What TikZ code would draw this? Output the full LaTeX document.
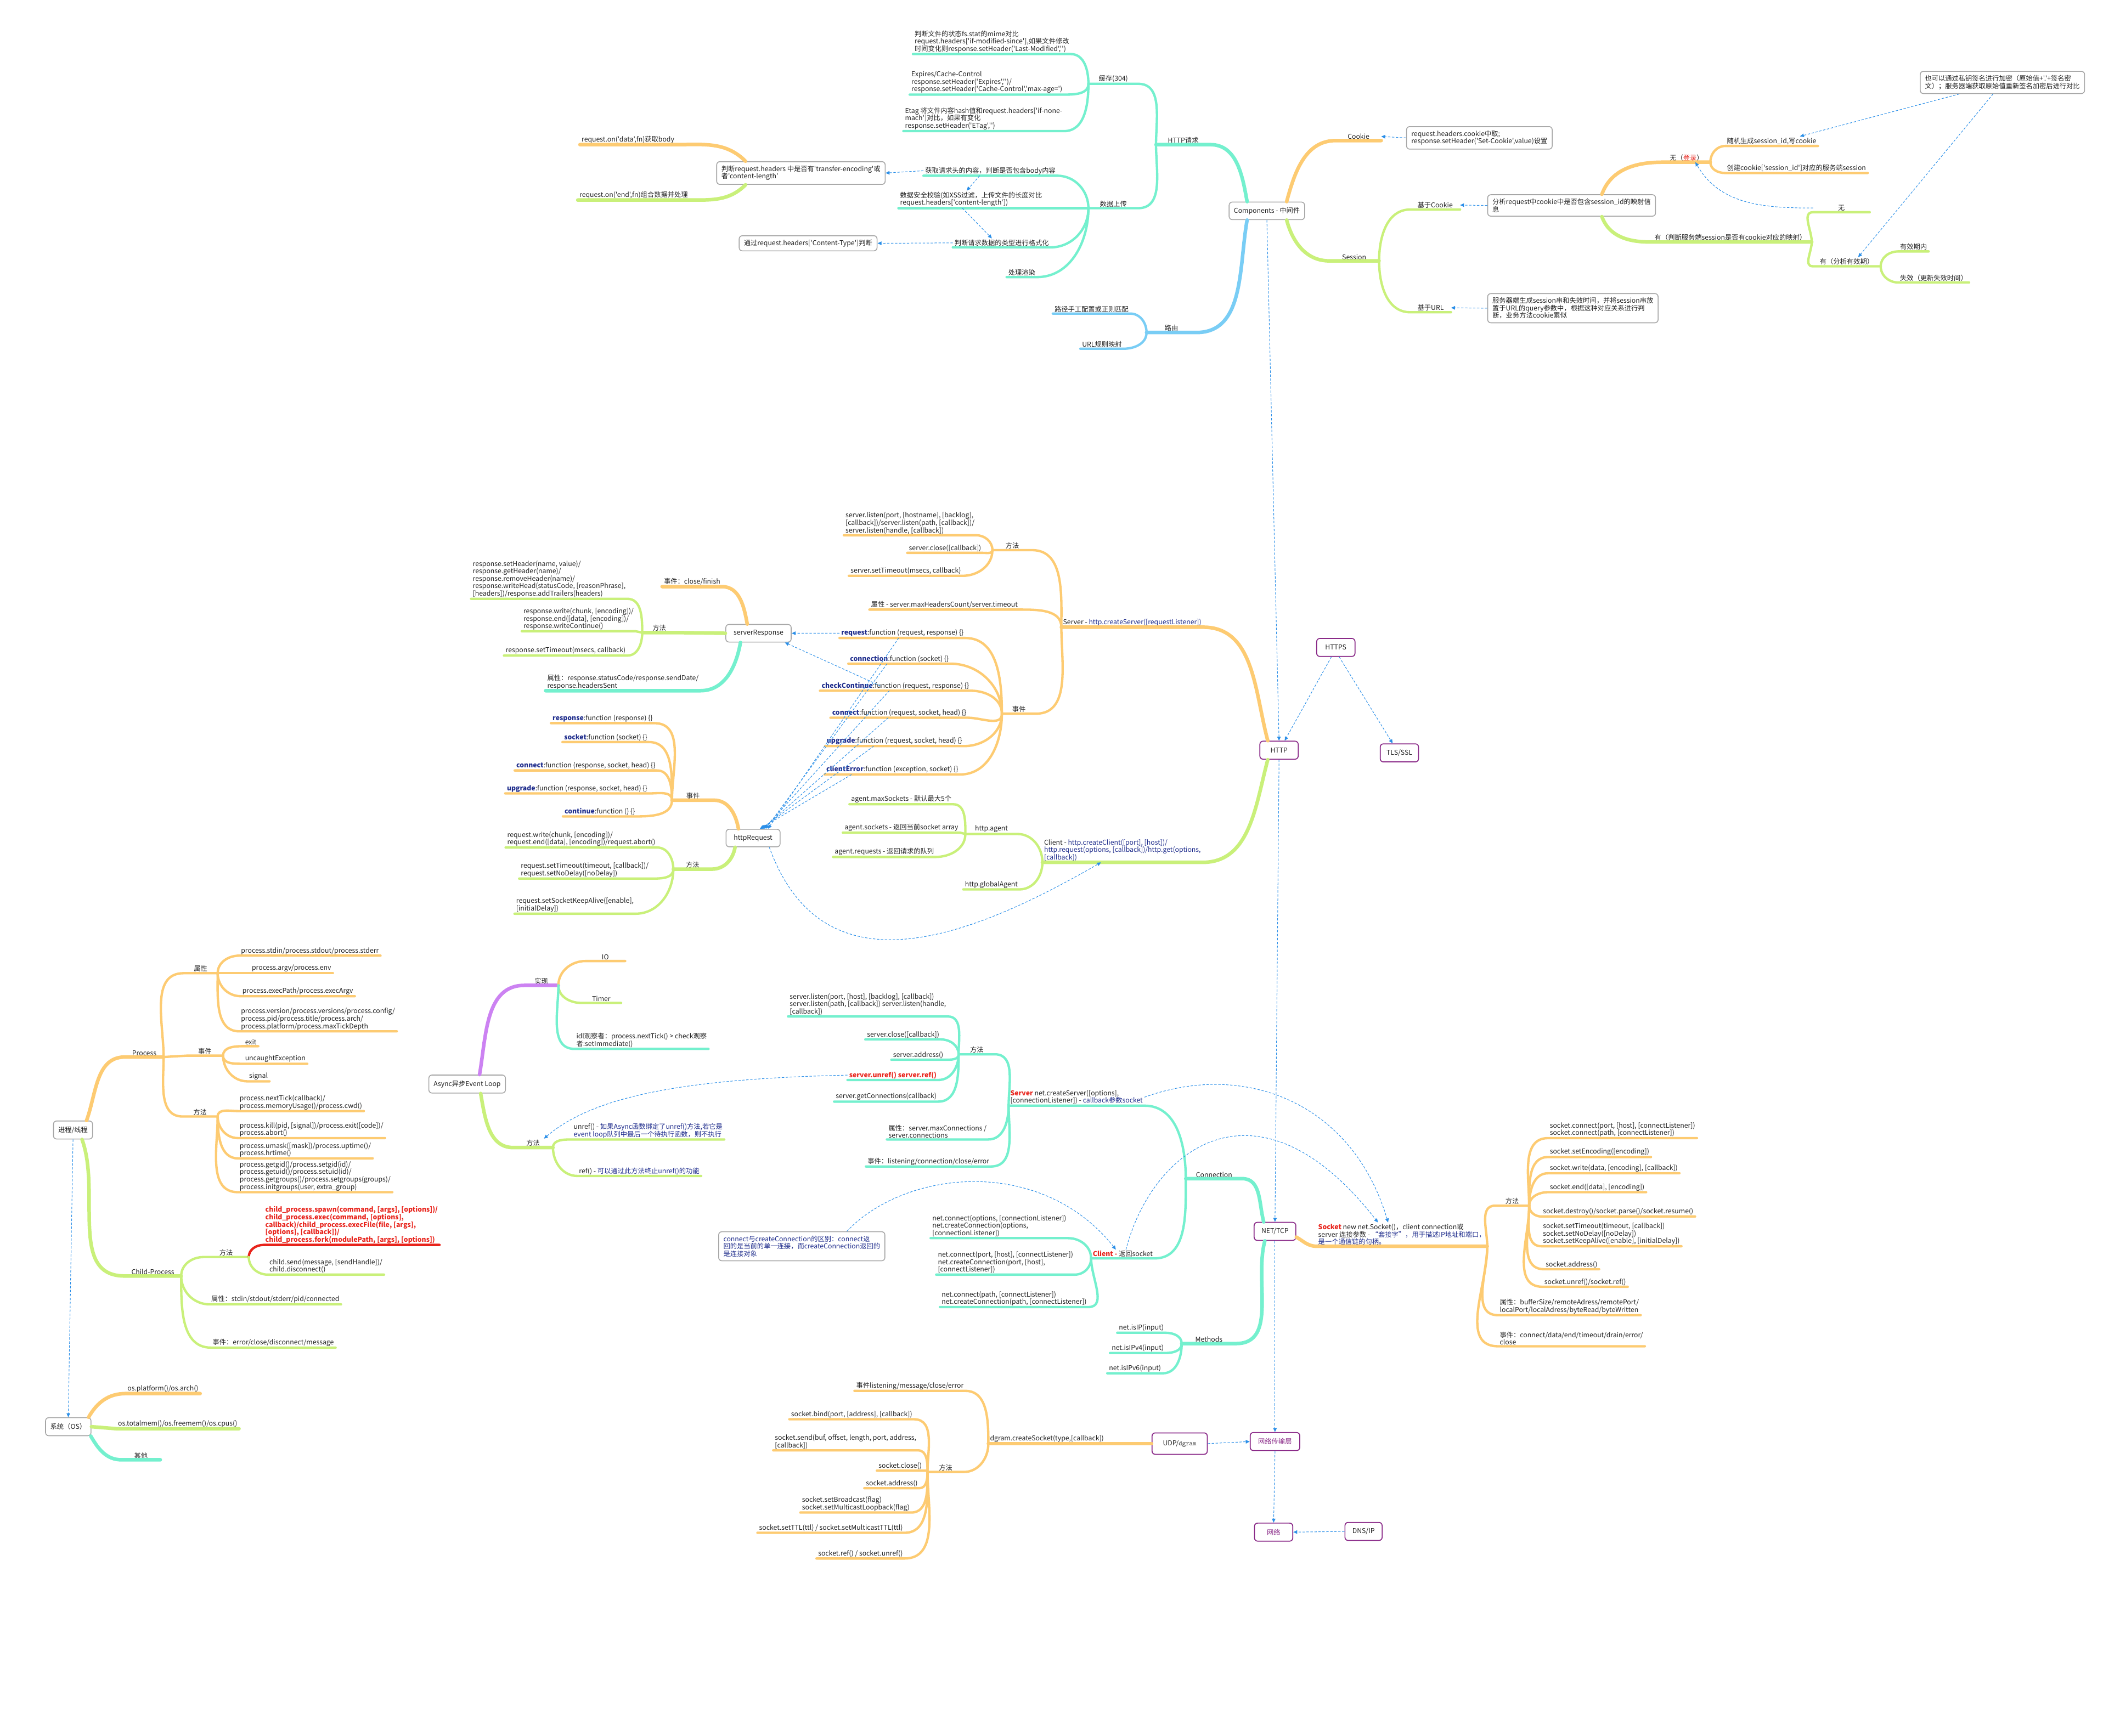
\documentclass[tikz,border=0pt]{standalone}
\usepackage{fontspec}
\setmainfont{Noto Sans CJK SC}[Ligatures=TeXOff]
\usetikzlibrary{arrows.meta,calc}

\definecolor{cOrange}{HTML}{FDCB72}
\definecolor{cGreen}{HTML}{C9F07A}
\definecolor{cTeal}{HTML}{74F0CE}
\definecolor{cSky}{HTML}{79CDF5}
\definecolor{cViolet}{HTML}{CC82F2}
\definecolor{cRed}{HTML}{E8231B}
\definecolor{cNavy}{HTML}{1E2C8C}
\definecolor{cArrow}{HTML}{2B8FE8}
\definecolor{cPlum}{HTML}{8A2A88}
\definecolor{cInk}{HTML}{222222}

\newcommand\mapfont{\fontsize{8.5}{9.4}\selectfont}
\newcommand\evname[1]{\textbf{\textcolor{cNavy}{#1}}}
\newcommand\hot[1]{\textbf{\textcolor{cRed}{#1}}}
\newcommand\navy[1]{\textcolor{cNavy}{#1}}

\tikzset{
  leaf/.style={inner xsep=2pt, inner ysep=1.5pt, align=left, font=\mapfont, text=cInk},
  box/.style={draw=gray!70, line width=1.1pt, rounded corners=4pt, fill=white, align=left,
    inner xsep=6pt, inner ysep=5pt, font=\mapfont, text=cInk},
  hub/.style={draw=cPlum, line width=1.2pt, rounded corners=4pt, fill=white, font=\mapfont,
    minimum width=1.7cm, minimum height=0.8cm, text=cInk},
  twig/.style={line width=3pt, line cap=round, line join=round},
  limb/.style={line width=4.5pt, line cap=round, line join=round},
  otw/.style={twig, draw=cOrange}, gtw/.style={twig, draw=cGreen},
  ttw/.style={twig, draw=cTeal}, btw/.style={twig, draw=cSky},
  rtw/.style={twig, draw=cRed},
  obr/.style={limb, draw=cOrange}, gbr/.style={limb, draw=cGreen},
  tbr/.style={limb, draw=cTeal}, bbr/.style={limb, draw=cSky},
  vbr/.style={limb, draw=cViolet},
  darr/.style={-{Triangle[length=5pt,width=4.5pt]}, draw=cArrow, line width=0.7pt,
    dash pattern=on 3pt off 2pt},
  uL/.style={out=90,in=0}, dL/.style={out=270,in=0},
  uR/.style={out=90,in=180}, dR/.style={out=270,in=180}
}

\begin{document}
\begin{tikzpicture}[x=0.06cm, y=-0.06cm]

\fill[white] (0,0) rectangle (1568,1284);
\useasboundingbox (0,0) rectangle (1568,1284);

% Components
\node[box, minimum height=0.78cm] (comp) at (937,156) {Components - 中间件};
\node[leaf, anchor=south west, minimum width=2.4cm] (httpreq) at (855,107) {HTTP请求};
\node[leaf, anchor=south west, minimum width=2.2cm] (cache) at (805,62) {缓存(304)};
\node[leaf, anchor=south west, minimum width=2.2cm] (upload) at (805,154) {数据上传};
\node[leaf, anchor=south east] (c1) at (792,40) {判断文件的状态fs.stat的mime对比\\request.headers['if-modified-since'],如果文件修改\\时间变化则response.setHeader('Last-Modified','')};
\node[leaf, anchor=south east] (c2) at (787,70) {Expires/Cache-Control\\response.setHeader('Expires','')/\\response.setHeader('Cache-Control','max-age=')};
\node[leaf, anchor=south east] (c3) at (787,97) {Etag 将文件内容hash值和request.headers['if-none-\\mach']对比，如果有变化\\response.setHeader('ETag','')};
\node[leaf, anchor=south east] (u1) at (782,130) {获取请求头的内容，判断是否包含body内容};
\node[leaf, anchor=south east] (u2) at (772,154) {数据安全校验(如XSS过滤，上传文件的长度对比\\request.headers['content-length'])};
\node[leaf, anchor=south east] (u3) at (777,183) {判断请求数据的类型进行格式化};
\node[leaf, anchor=south east] (u4) at (767,205) {处理渲染};
\draw[tbr] (comp.155) to[out=100,in=0] (httpreq.south east) -- (httpreq.south west);
\draw[ttw] (httpreq.south west) to[uL] (cache.south east) -- (cache.south west);
\draw[ttw] (httpreq.south west) to[dL] (upload.south east) -- (upload.south west);
\draw[ttw] (cache.south west) to[uL] (c1.south east) -- (c1.south west);
\draw[ttw] (cache.south west) to[dL] (c2.south east) -- (c2.south west);
\draw[ttw] (cache.south west) to[dL] (c3.south east) -- (c3.south west);
\draw[ttw] (upload.south west) to[uL] (u1.south east) -- (u1.south west);
\draw[ttw] (upload.south west) -- (u2.south east) -- (u2.south west);
\draw[ttw] (upload.south west) to[dL] (u3.south east) -- (u3.south west);
\draw[ttw] (upload.south west) to[dL] (u4.south east) -- (u4.south west);

\node[box, anchor=east] (tebox) at (655,128) {判断request.headers 中是否有'transfer-encoding'或\\者'content-length'};
\node[box, anchor=east] (ctbox) at (649,180) {通过request.headers['Content-Type']判断};
\node[leaf, anchor=south east] (on1) at (500,107) {request.on('data',fn)获取body};
\node[leaf, anchor=south east] (on2) at (510,148) {request.on('end',fn)组合数据并处理};
\draw[obr] ([xshift=1.3cm]tebox.north west) to[out=135,in=0] (on1.south east) -- (on1.south west);
\draw[gbr] ([xshift=1.3cm]tebox.south west) to[out=225,in=0] (on2.south east) -- (on2.south west);
\draw[darr] (u1.west) -- (tebox.east);
\draw[darr] ($(u1.south west)!0.42!(u1.south east)$) -- ($(u2.north west)!0.47!(u2.north east)$);
\draw[darr] ($(u2.south west)!0.44!(u2.south east)$) -- ($(u3.north west)!0.4!(u3.north east)$);
\draw[darr] (u3.west) -- (ctbox.east);

\node[leaf, anchor=south west, minimum width=2.2cm] (route) at (848,246) {路由};
\node[leaf, anchor=south east] (r1) at (836,232) {路径手工配置或正则匹配};
\node[leaf, anchor=south east] (r2) at (831,258) {URL规则映射};
\draw[bbr] (comp.205) to[out=260,in=0] (route.south east) -- (route.south west);
\draw[btw] (route.south west) to[uL] (r1.south east) -- (r1.south west);
\draw[btw] (route.south west) to[dL] (r2.south east) -- (r2.south west);

% Cookie and Session
\node[leaf, anchor=south west, minimum width=2cm] (cookie) at (988,104) {Cookie};
\node[box, anchor=west] (ckbox) at (1040,102) {request.headers.cookie中取;\\response.setHeader('Set-Cookie',value)设置};
\draw[obr] (comp.25) to[out=75,in=180] (cookie.south west) -- (cookie.south east);
\draw[darr] (ckbox.west) -- (cookie.east);

\node[leaf, anchor=south east, minimum width=2.2cm] (session) at (1020,193) {Session};
\node[leaf, anchor=south west, minimum width=2.2cm] (sck) at (1043,155) {基于Cookie};
\node[leaf, anchor=south west, minimum width=1.8cm] (surl) at (1043,231) {基于URL};
\draw[gbr] (comp.335) to[out=285,in=180] (session.south west) -- (session.south east);
\draw[gtw] (session.south east) to[uR] (sck.south west) -- (sck.south east);
\draw[gtw] (session.south east) to[dR] (surl.south west) -- (surl.south east);
\node[box, anchor=west] (anbox) at (1100,152) {分析request中cookie中是否包含session\_id的映射信\\息};
\node[box, anchor=west] (urlbox) at (1100,228) {服务器端生成session串和失效时间，并将session串放\\置于URL的query参数中，根据这种对应关系进行判\\断，业务方法cookie累似};
\draw[darr] (anbox.west) -- (sck.east);
\draw[darr] (urlbox.west) -- (surl.east);

\node[leaf, anchor=south east, minimum width=2.1cm] (nologin) at (1265,120) {无（\textcolor{cRed}{登录}）};
\node[leaf, anchor=south west] (s1) at (1276,108) {随机生成session\_id,写cookie};
\node[leaf, anchor=south west] (s2) at (1276,128) {创建cookie['session\_id']对应的服务端session};
\draw[obr] ([xshift=-2.4cm]anbox.north east) to[out=70,in=180] (nologin.south west) -- (nologin.south east);
\draw[otw] (nologin.south east) to[uR] (s1.south west) -- (s1.south east);
\draw[otw] (nologin.south east) to[dR] (s2.south west) -- (s2.south east);
\node[leaf, anchor=south east, minimum width=7.2cm] (have) at (1340,179) {有（判断服务端session是否有cookie对应的映射）};
\node[leaf, anchor=south west, minimum width=2.5cm] (hno) at (1341,157) {无};
\node[leaf, anchor=south east, minimum width=3cm] (hyes) at (1391,197) {有（分析有效期）};
\node[leaf, anchor=south west] (v1) at (1404,186) {有效期内};
\node[leaf, anchor=south west] (v2) at (1404,209) {失效（更新失效时间）};
\draw[gbr] ([xshift=-2.4cm]anbox.south east) to[out=290,in=180] (have.south west) -- (have.south east);
\draw[gtw] (have.south east) to[uR] (hno.south west) -- (hno.south east);
\draw[gtw] (have.south east) to[dR] (hyes.south west) -- (hyes.south east);
\draw[gtw] (hyes.south east) to[uR] (v1.south west) -- (v1.south east);
\draw[gtw] (hyes.south east) to[dR] (v2.south west) -- (v2.south east);
\node[box] (sigbox) at (1481,61) {也可以通过私钥签名进行加密（原始值+'.'+签名密\\文）；服务器端获取原始值重新签名加密后进行对比};
\draw[darr] (hno.west) to[out=180,in=-60] ([xshift=1.45cm]nologin.south west);
\draw[darr] (sigbox.195) -- ([xshift=-0.8cm]s1.north east);
\draw[darr] (sigbox.231) -- ([xshift=-1cm]hyes.north east);

% HTTP
\node[hub] (http) at (946,555) {HTTP};
\node[hub] (https) at (988,479) {HTTPS};
\node[hub] (tls) at (1035,557) {TLS/SSL};
\draw[darr] (comp.south) -- (http.north);
\draw[darr] ([xshift=-0.2cm]https.south) -- ([xshift=0.25cm]http.north);
\draw[darr] ([xshift=0.15cm]https.south) -- ([xshift=-0.3cm]tls.north);

\node[leaf, anchor=south west] (srv) at (785,464) {Server - \navy{http.createServer([requestListener])}};
\node[leaf, anchor=south west, minimum width=1.75cm] (smeth) at (734,407) {方法};
\node[leaf, anchor=south east] (sm1) at (722,396) {server.listen(port, [hostname], [backlog],\\{}[callback])/server.listen(path, [callback])/\\server.listen(handle, [callback])};
\node[leaf, anchor=south east] (sm2) at (727,409) {server.close([callback])};
\node[leaf, anchor=south east] (sm3) at (712,426) {server.setTimeout(msecs, callback)};
\node[leaf, anchor=south east] (sattr) at (754,451) {属性 - server.maxHeadersCount/server.timeout};
\node[leaf, anchor=south west, minimum width=1.5cm] (sevt) at (741,528) {事件};
\node[leaf, anchor=south east] (e1) at (714,472) {\evname{request}:function (request, response) \{\}};
\node[leaf, anchor=south east] (e2) at (703,491) {\evname{connection}:function (socket) \{\}};
\node[leaf, anchor=south east] (e3) at (718,511) {\evname{checkContinue}:function (request, response) \{\}};
\node[leaf, anchor=south east] (e4) at (716,531) {\evname{connect}:function (request, socket, head) \{\}};
\node[leaf, anchor=south east] (e5) at (713,552) {\evname{upgrade}:function (request, socket, head) \{\}};
\node[leaf, anchor=south east] (e6) at (710,573) {\evname{clientError}:function (exception, socket) \{\}};
\draw[obr] ([xshift=-0.5cm]http.north) to[out=105,in=0] (srv.south east) -- (srv.south west);
\draw[otw] (srv.south west) to[uL] (smeth.south east) -- (smeth.south west);
\draw[otw] (smeth.south west) to[uL] (sm1.south east) -- (sm1.south west);
\draw[otw] (smeth.south west) to[dL] (sm2.south east) -- (sm2.south west);
\draw[otw] (smeth.south west) to[dL] (sm3.south east) -- (sm3.south west);
\draw[otw] (srv.south west) to[uL] (sattr.south east) -- (sattr.south west);
\draw[otw] (srv.south west) to[dL] (sevt.south east) -- (sevt.south west);
\draw[otw] (sevt.south west) to[uL] (e1.south east) -- (e1.south west);
\draw[otw] (sevt.south west) to[uL] (e2.south east) -- (e2.south west);
\draw[otw] (sevt.south west) to[uL] (e3.south east) -- (e3.south west);
\draw[otw] (sevt.south west) to[dL] (e4.south east) -- (e4.south west);
\draw[otw] (sevt.south west) to[dL] (e5.south east) -- (e5.south west);
\draw[otw] (sevt.south west) to[dL] (e6.south east) -- (e6.south west);

\node[leaf, anchor=south west] (cli) at (771,638) {Client - \navy{http.createClient([port], [host])/}\\\navy{http.request(options, [callback])/http.get(options,}\\\navy{[callback])}};
\node[leaf, anchor=south west, minimum width=2.3cm] (agent) at (714,617) {http.agent};
\node[leaf, anchor=south east] (gagent) at (754,658) {http.globalAgent};
\node[leaf, anchor=south east] (a1) at (705,595) {agent.maxSockets - 默认最大5个};
\node[leaf, anchor=south east] (a2) at (710,616) {agent.sockets - 返回当前socket array};
\node[leaf, anchor=south east] (a3) at (692,634) {agent.requests - 返回请求的队列};
\draw[gbr] ([xshift=-0.5cm]http.south) to[out=255,in=0] (cli.south east) -- (cli.south west);
\draw[gtw] (cli.south west) to[uL] (agent.south east) -- (agent.south west);
\draw[gtw] (cli.south west) to[dL] (gagent.south east) -- (gagent.south west);
\draw[gtw] (agent.south west) to[uL] (a1.south east) -- (a1.south west);
\draw[gtw] (agent.south west) -- (a2.south east) -- (a2.south west);
\draw[gtw] (agent.south west) to[dL] (a3.south east) -- (a3.south west);

% serverResponse
\node[box, minimum width=2.9cm, minimum height=0.78cm] (sresp) at (561,468.5) {serverResponse};
\node[leaf, anchor=south east] (sclose) at (534,434) {事件：close/finish};
\node[leaf, anchor=south west, minimum width=1.5cm] (smeth2) at (475,468) {方法};
\node[leaf, anchor=south east] (rm1) at (464,443) {response.setHeader(name, value)/\\response.getHeader(name)/\\response.removeHeader(name)/\\response.writeHead(statusCode, [reasonPhrase],\\{}[headers])/response.addTrailers(headers)};
\node[leaf, anchor=south east] (rm2) at (470,467) {response.write(chunk, [encoding])/\\response.end([data], [encoding])/\\response.writeContinue()};
\node[leaf, anchor=south east] (rm3) at (464,485) {response.setTimeout(msecs, callback)};
\node[leaf, anchor=south east] (sattr2) at (518,511) {属性：response.statusCode/response.sendDate/\\response.headersSent};
\draw[obr] ([xshift=-0.5cm]sresp.north) to[out=100,in=0] (sclose.south east) -- (sclose.south west);
\draw[gbr] (sresp.west) -- (smeth2.south east) -- (smeth2.south west);
\draw[gtw] (smeth2.south west) to[uL] (rm1.south east) -- (rm1.south west);
\draw[gtw] (smeth2.south west) -- (rm2.south east) -- (rm2.south west);
\draw[gtw] (smeth2.south west) to[dL] (rm3.south east) -- (rm3.south west);
\draw[tbr] ([xshift=-0.8cm]sresp.south) to[out=260,in=0] (sattr2.south east) -- (sattr2.south west);

% httpRequest
\node[box, minimum width=2.4cm, minimum height=0.78cm] (hreq) at (557,620) {httpRequest};
\node[leaf, anchor=south west, minimum width=1.85cm] (hevt) at (497,592) {事件};
\node[leaf, anchor=south east] (q1) at (484,535) {\evname{response}:function (response) \{\}};
\node[leaf, anchor=south east] (q2) at (480,549) {\evname{socket}:function (socket) \{\}};
\node[leaf, anchor=south east] (q3) at (486,570) {\evname{connect}:function (response, socket, head) \{\}};
\node[leaf, anchor=south east] (q4) at (480,587) {\evname{upgrade}:function (response, socket, head) \{\}};
\node[leaf, anchor=south east] (q5) at (471,604) {\evname{continue}:function () \{\}};
\node[leaf, anchor=south west, minimum width=1.7cm] (hmeth) at (498,643) {方法};
\node[leaf, anchor=south east] (w1) at (486,627) {request.write(chunk, [encoding])/\\request.end([data], [encoding])/request.abort()};
\node[leaf, anchor=south east] (w2) at (481,650) {request.setTimeout(timeout, [callback])/\\request.setNoDelay([noDelay])};
\node[leaf, anchor=south east] (w3) at (470,676) {request.setSocketKeepAlive([enable],\\{}[initialDelay])};
\draw[obr] ([xshift=-0.65cm]hreq.north) to[out=100,in=0] (hevt.south east) -- (hevt.south west);
\draw[otw] (hevt.south west) to[uL] (q1.south east) -- (q1.south west);
\draw[otw] (hevt.south west) to[uL] (q2.south east) -- (q2.south west);
\draw[otw] (hevt.south west) to[uL] (q3.south east) -- (q3.south west);
\draw[otw] (hevt.south west) to[uL] (q4.south east) -- (q4.south west);
\draw[otw] (hevt.south west) to[dL] (q5.south east) -- (q5.south west);
\draw[gbr] ([xshift=-0.8cm]hreq.south) to[out=260,in=0] (hmeth.south east) -- (hmeth.south west);
\draw[gtw] (hmeth.south west) to[uL] (w1.south east) -- (w1.south west);
\draw[gtw] (hmeth.south west) to[dL] (w2.south east) -- (w2.south west);
\draw[gtw] (hmeth.south west) to[dL] (w3.south east) -- (w3.south west);

\draw[darr] (e1.west) -- (sresp.east);
\draw[darr] ($(e3.west)!0.4!(e3.east)$) -- ([xshift=-0.3cm]sresp.south east);
\draw[darr] ($(e1.south west)!0.47!(e1.south east)$) -- ([xshift=0.66cm]hreq.north);
\draw[darr] ($(e2.south west)!0.38!(e2.south east)$) -- ([xshift=0.56cm]hreq.north);
\draw[darr] ($(e3.south west)!0.46!(e3.south east)$) -- ([xshift=0.48cm]hreq.north);
\draw[darr] ($(e4.south west)!0.42!(e4.south east)$) -- ([xshift=0.42cm]hreq.north);
\draw[darr] ($(e5.south west)!0.35!(e5.south east)$) -- ([xshift=0.36cm]hreq.north);
\draw[darr] ($(e6.south west)!0.2!(e6.south east)$) -- ([xshift=0.3cm]hreq.north);
\draw[darr] ([xshift=-0.5cm]hreq.south east) to[out=-70,in=-150,looseness=1.2] ([xshift=2.6cm]cli.south west);

% NET/TCP
\node[hub, minimum width=1.85cm] (net) at (943,911) {NET/TCP};
\draw[darr] (http.south) -- (net.north);
\node[leaf, anchor=south west, minimum width=2.5cm] (conn) at (877,872) {Connection};
\node[leaf, anchor=south west] (nsrv) at (746,818) {\hot{Server} net.createServer([options],\\{}[connectionListener]) - \navy{callback参数socket}};
\node[leaf, anchor=south west, minimum width=1.6cm] (nmeth) at (709,780) {方法};
\node[leaf, anchor=south east] (nm1) at (701,752) {server.listen(port, [host], [backlog], [callback])\\server.listen(path, [callback]) server.listen(handle,\\{}[callback])};
\node[leaf, anchor=south east] (nm2) at (696,769) {server.close([callback])};
\node[leaf, anchor=south east] (nm3) at (699,784) {server.address()};
\node[leaf, anchor=south east] (nm4) at (694,799) {\hot{server.unref() server.ref()}};
\node[leaf, anchor=south east] (nm5) at (694,815) {server.getConnections(callback)};
\node[leaf, anchor=south east] (nattr) at (731,843) {属性：server.maxConnections /\\server.connections};
\node[leaf, anchor=south east] (nevt) at (733,863) {事件：listening/connection/close/error};
\draw[tbr] ([xshift=-0.5cm]net.north) to[out=105,in=0] (conn.south east) -- (conn.south west);
\draw[ttw] (conn.south west) to[uL] (nsrv.south east) -- (nsrv.south west);
\draw[ttw] (nsrv.south west) to[uL] (nmeth.south east) -- (nmeth.south west);
\draw[ttw] (nmeth.south west) to[uL] (nm1.south east) -- (nm1.south west);
\draw[ttw] (nmeth.south west) to[uL] (nm2.south east) -- (nm2.south west);
\draw[ttw] (nmeth.south west) to[dL] (nm3.south east) -- (nm3.south west);
\draw[ttw] (nmeth.south west) to[dL] (nm4.south east) -- (nm4.south west);
\draw[ttw] (nmeth.south west) to[dL] (nm5.south east) -- (nm5.south west);
\draw[ttw] (nsrv.south west) to[dL] (nattr.south east) -- (nattr.south west);
\draw[ttw] (nsrv.south west) to[dL] (nevt.south east) -- (nevt.south west);

\node[leaf, anchor=south west] (ncli) at (807,931) {\hot{Client -} 返回socket};
\node[leaf, anchor=south east] (nc1) at (790,916) {net.connect(options, [connectionListener])\\net.createConnection(options,\\{}[connectionListener])};
\node[leaf, anchor=south east] (nc2) at (795,943) {net.connect(port, [host], [connectListener])\\net.createConnection(port, [host],\\{}[connectListener])};
\node[leaf, anchor=south east] (nc3) at (805,967) {net.connect(path, [connectListener])\\net.createConnection(path, [connectListener])};
\draw[ttw] (conn.south west) to[dL] (ncli.south east) -- (ncli.south west);
\draw[ttw] (ncli.south west) to[uL] (nc1.south east) -- (nc1.south west);
\draw[ttw] (ncli.south west) to[dL] (nc2.south east) -- (nc2.south west);
\draw[ttw] (ncli.south west) to[dL] (nc3.south east) -- (nc3.south west);
\node[box, text=cNavy] (ncbox) at (593,922) {connect与createConnection的区别：connect返\\回的是当前的单一连接，而createConnection返回的\\是连接对象};
\draw[darr] ([xshift=2cm]ncbox.north) .. controls (670,865) and (770,855) .. ([xshift=1.1cm]ncli.north west);

\node[leaf, anchor=south west, minimum width=2.4cm] (nmtd) at (874,994) {Methods};
\node[leaf, anchor=south east] (mi1) at (862,986) {net.isIP(input)};
\node[leaf, anchor=south east] (mi2) at (862,1001) {net.isIPv4(input)};
\node[leaf, anchor=south east] (mi3) at (860,1016) {net.isIPv6(input)};
\draw[tbr] ([xshift=-0.45cm]net.south) to[out=255,in=0] (nmtd.south east) -- (nmtd.south west);
\draw[ttw] (nmtd.south west) to[uL] (mi1.south east) -- (mi1.south west);
\draw[ttw] (nmtd.south west) to[dL] (mi2.south east) -- (mi2.south west);
\draw[ttw] (nmtd.south west) to[dL] (mi3.south east) -- (mi3.south west);

\node[leaf, anchor=south east] (socket) at (1100,922) {\hot{Socket} new net.Socket()，client connection或\\server 连接参数 - \navy{“套接字”，用于描述IP地址和端口，}\\\navy{是一个通信链的句柄。}};
\node[leaf, anchor=south east, minimum width=1.5cm] (smeth3) at (1131,892) {方法};
\node[leaf, anchor=south west] (k1) at (1145,842) {socket.connect(port, [host], [connectListener])\\socket.connect(path, [connectListener])};
\node[leaf, anchor=south west] (k2) at (1145,856) {socket.setEncoding([encoding])};
\node[leaf, anchor=south west] (k3) at (1145,868) {socket.write(data, [encoding], [callback])};
\node[leaf, anchor=south west] (k4) at (1145,882) {socket.end([data], [encoding])};
\node[leaf, anchor=south west] (k5) at (1140,900) {socket.destroy()/socket.parse()/socket.resume()};
\node[leaf, anchor=south west] (k6) at (1140,922) {socket.setTimeout(timeout, [callback])\\socket.setNoDelay([noDelay])\\socket.setKeepAlive([enable], [initialDelay])};
\node[leaf, anchor=south west] (k7) at (1142,939) {socket.address()};
\node[leaf, anchor=south west] (k8) at (1141,952) {socket.unref()/socket.ref()};
\node[leaf, anchor=south west] (sattr3) at (1108,973) {属性：bufferSize/remoteAdress/remotePort/\\localPort/localAdress/byteRead/byteWritten};
\node[leaf, anchor=south west] (sevt3) at (1108,996) {事件：connect/data/end/timeout/drain/error/\\close};
\draw[obr] (net.-15) to[out=-30,in=180] (socket.south west) -- (socket.south east);
\draw[otw] (socket.south east) to[uR] (smeth3.south west) -- (smeth3.south east);
\draw[otw] (smeth3.south east) to[uR] (k1.south west) -- (k1.south east);
\draw[otw] (smeth3.south east) to[uR] (k2.south west) -- (k2.south east);
\draw[otw] (smeth3.south east) to[uR] (k3.south west) -- (k3.south east);
\draw[otw] (smeth3.south east) to[uR] (k4.south west) -- (k4.south east);
\draw[otw] (smeth3.south east) to[dR] (k5.south west) -- (k5.south east);
\draw[otw] (smeth3.south east) to[dR] (k6.south west) -- (k6.south east);
\draw[otw] (smeth3.south east) to[dR] (k7.south west) -- (k7.south east);
\draw[otw] (smeth3.south east) to[dR] (k8.south west) -- (k8.south east);
\draw[otw] (socket.south east) to[dR] (sattr3.south west) -- (sattr3.south east);
\draw[otw] (socket.south east) to[dR] (sevt3.south west) -- (sevt3.south east);
\draw[darr] (nsrv.east) .. controls (920,785) and (1000,815) .. ([xshift=-4.4cm]socket.north east);
\draw[darr] ($(ncli.north west)!0.55!(ncli.north east)$) .. controls (852,850) and (930,790) .. ([xshift=-4.85cm]socket.north east);

% UDP and lower layers
\node[hub, minimum width=2.45cm, minimum height=0.95cm] (udp) at (872.5,1068) {UDP/{\ttfamily dgram}};
\node[hub, minimum width=2.2cm, text=cPlum] (ntl) at (943,1066.5) {网络传输层};
\node[hub, text=cPlum] (netw) at (942,1133.5) {网络};
\node[hub, minimum width=1.65cm] (dns) at (1008.5,1133) {DNS/IP};
\draw[darr] (net.south) -- (ntl.north);
\draw[darr] (ntl.south) -- (netw.north);
\draw[darr] (udp.east) -- (ntl.west);
\draw[darr] (dns.west) -- (netw.east);

\node[leaf, anchor=south west] (dgram) at (731,1068) {dgram.createSocket(type,[callback])};
\node[leaf, anchor=south east] (dev) at (714,1029) {事件listening/message/close/error};
\node[leaf, anchor=south west, minimum width=1.6cm] (dmeth) at (686,1089) {方法};
\node[leaf, anchor=south east] (d1) at (676,1050) {socket.bind(port, [address], [callback])};
\node[leaf, anchor=south east] (d2) at (679,1073) {socket.send(buf, offset, length, port, address,\\{}[callback])};
\node[leaf, anchor=south east] (d3) at (683,1088) {socket.close()};
\node[leaf, anchor=south east] (d4) at (680,1101) {socket.address()};
\node[leaf, anchor=south east] (d5) at (674,1119) {socket.setBroadcast(flag)\\socket.setMulticastLoopback(flag)};
\node[leaf, anchor=south east] (d6) at (669,1134) {socket.setTTL(ttl) / socket.setMulticastTTL(ttl)};
\node[leaf, anchor=south east] (d7) at (669,1153) {socket.ref() / socket.unref()};
\draw[obr] (udp.west) -- (dgram.south east) -- (dgram.south west);
\draw[otw] (dgram.south west) to[uL] (dev.south east) -- (dev.south west);
\draw[otw] (dgram.south west) to[dL] (dmeth.south east) -- (dmeth.south west);
\draw[otw] (dmeth.south west) to[uL] (d1.south east) -- (d1.south west);
\draw[otw] (dmeth.south west) to[uL] (d2.south east) -- (d2.south west);
\draw[otw] (dmeth.south west) to[uL] (d3.south east) -- (d3.south west);
\draw[otw] (dmeth.south west) to[dL] (d4.south east) -- (d4.south west);
\draw[otw] (dmeth.south west) to[dL] (d5.south east) -- (d5.south west);
\draw[otw] (dmeth.south west) to[dL] (d6.south east) -- (d6.south west);
\draw[otw] (dmeth.south west) to[dL] (d7.south east) -- (d7.south west);

% Async
\node[box, minimum height=0.8cm] (async) at (345.5,802) {Async异步Event Loop};
\node[leaf, anchor=south east, minimum width=1.5cm] (impl) at (413,729) {实现};
\node[leaf, anchor=south west, minimum width=1.75cm] (io) at (433,711) {IO};
\node[leaf, anchor=south west, minimum width=1.75cm] (timer) at (430,742) {Timer};
\node[leaf, anchor=south west] (idl) at (425,776) {idl观察者：process.nextTick() > check观察\\者:setImmediate()};
\node[leaf, anchor=south east, minimum width=1.75cm] (ameth) at (409,849) {方法};
\node[leaf, anchor=south west] (unref) at (423,843) {unref() - \navy{如果Async函数绑定了unref()方法,若它是}\\\navy{event loop队列中最后一个待执行函数，则不执行}};
\node[leaf, anchor=south west] (refn) at (427,870) {ref() - \navy{可以通过此方法终止unref()的功能}};
\draw[vbr] ([xshift=0.55cm]async.north) to[out=80,in=180] (impl.south west) -- (impl.south east);
\draw[otw] (impl.south east) to[uR] (io.south west) -- (io.south east);
\draw[gtw] (impl.south east) to[dR] (timer.south west) -- (timer.south east);
\draw[ttw] (impl.south east) to[dR] (idl.south west) -- (idl.south east);
\draw[gbr] ([xshift=0.6cm]async.south) to[out=280,in=180] (ameth.south west) -- (ameth.south east);
\draw[gtw] (ameth.south east) to[uR] (unref.south west) -- (unref.south east);
\draw[gtw] (ameth.south east) to[dR] (refn.south west) -- (refn.south east);
\draw[darr] (nm4.west) .. controls (510,798) and (440,810) .. ([xshift=-0.4cm]ameth.north east);

% Process
\node[box, minimum height=0.8cm] (proc) at (54,836) {进程/线程};
\node[leaf, anchor=south east, minimum width=1.7cm] (process) at (121,782) {Process};
\node[leaf, anchor=south east, minimum width=1.5cm] (pattr) at (161,720) {属性};
\node[leaf, anchor=south east, minimum width=1.6cm] (pevt) at (165,781) {事件};
\node[leaf, anchor=south east, minimum width=1.55cm] (pmeth) at (161,826) {方法};
\node[leaf, anchor=south west] (pa1) at (177,707) {process.stdin/process.stdout/process.stderr};
\node[leaf, anchor=south west] (pa2) at (185,720) {process.argv/process.env};
\node[leaf, anchor=south west] (pa3) at (178,737) {process.execPath/process.execArgv};
\node[leaf, anchor=south west] (pa4) at (177,763) {process.version/process.versions/process.config/\\process.pid/process.title/process.arch/\\process.platform/process.maxTickDepth};
\node[leaf, anchor=south west] (pe1) at (180,774) {exit};
\node[leaf, anchor=south west] (pe2) at (180,787) {uncaughtException};
\node[leaf, anchor=south west] (pe3) at (183,800) {signal};
\node[leaf, anchor=south west] (pm1) at (176,822) {process.nextTick(callback)/\\process.memoryUsage()/process.cwd()};
\node[leaf, anchor=south west] (pm2) at (176,842) {process.kill(pid, [signal])/process.exit([code])/\\process.abort()};
\node[leaf, anchor=south west] (pm3) at (176,857) {process.umask([mask])/process.uptime()/\\process.hrtime()};
\node[leaf, anchor=south west] (pm4) at (176,882) {process.getgid()/process.setgid(id)/\\process.getuid()/process.setuid(id)/\\process.getgroups()/process.setgroups(groups)/\\process.initgroups(user, extra\_group)};
\draw[obr] ([xshift=0.6cm]proc.north) to[out=70,in=180] (process.south west) -- (process.south east);
\draw[otw] (process.south east) to[uR] (pattr.south west) -- (pattr.south east);
\draw[otw] (process.south east) -- (pevt.south west) -- (pevt.south east);
\draw[otw] (process.south east) to[dR] (pmeth.south west) -- (pmeth.south east);
\draw[otw] (pattr.south east) to[uR] (pa1.south west) -- (pa1.south east);
\draw[otw] (pattr.south east) -- (pa2.south west) -- (pa2.south east);
\draw[otw] (pattr.south east) to[dR] (pa3.south west) -- (pa3.south east);
\draw[otw] (pattr.south east) to[dR] (pa4.south west) -- (pa4.south east);
\draw[otw] (pevt.south east) to[uR] (pe1.south west) -- (pe1.south east);
\draw[otw] (pevt.south east) to[dR] (pe2.south west) -- (pe2.south east);
\draw[otw] (pevt.south east) to[dR] (pe3.south west) -- (pe3.south east);
\draw[otw] (pmeth.south east) to[uR] (pm1.south west) -- (pm1.south east);
\draw[otw] (pmeth.south east) to[dR] (pm2.south west) -- (pm2.south east);
\draw[otw] (pmeth.south east) to[dR] (pm3.south west) -- (pm3.south east);
\draw[otw] (pmeth.south east) to[dR] (pm4.south west) -- (pm4.south east);

\node[leaf, anchor=south east, minimum width=2.5cm] (child) at (134,944) {Child-Process};
\node[leaf, anchor=south east, minimum width=2cm] (cmeth) at (184,930) {方法};
\node[leaf, anchor=south west, text=cRed, font=\mapfont\bfseries] (cm1) at (195,921) {child\_process.spawn(command, [args], [options])/\\child\_process.exec(command, [options],\\callback)/child\_process.execFile(file, [args],\\{}[options], [callback])/\\child\_process.fork(modulePath, [args], [options])};
\node[leaf, anchor=south west] (cm2) at (198,943) {child.send(message, [sendHandle])/\\child.disconnect()};
\node[leaf, anchor=south west] (cattr) at (155,965) {属性：stdin/stdout/stderr/pid/connected};
\node[leaf, anchor=south west] (cevt) at (156,997) {事件：error/close/disconnect/message};
\draw[gbr] ([xshift=0.4cm]proc.south) to[out=290,in=180] (child.south west) -- (child.south east);
\draw[gtw] (child.south east) to[uR] (cmeth.south west) -- (cmeth.south east);
\draw[rtw] (cmeth.south east) to[uR] (cm1.south west) -- (cm1.south east);
\draw[gtw] (cmeth.south east) to[dR] (cm2.south west) -- (cm2.south east);
\draw[gtw] (child.south east) to[dR] (cattr.south west) -- (cattr.south east);
\draw[gtw] (child.south east) to[dR] (cevt.south west) -- (cevt.south east);

% OS
\node[box, minimum height=0.8cm] (os) at (50.5,1055.5) {系统（OS）};
\node[leaf, anchor=south west] (os1) at (93,1031) {os.platform()/os.arch()};
\node[leaf, anchor=south west] (os2) at (86,1057) {os.totalmem()/os.freemem()/os.cpus()};
\node[leaf, anchor=south west, minimum width=1.7cm] (os3) at (90,1080) {其他};
\draw[darr] (proc.south) -- (os.north);
\draw[obr] ([xshift=0.9cm]os.north) to[out=60,in=180] (os1.south west) -- (os1.south east);
\draw[gbr] (os.east) -- (os2.south west) -- (os2.south east);
\draw[tbr] ([xshift=1cm]os.south) to[out=300,in=180] (os3.south west) -- (os3.south east);

\end{tikzpicture}
\end{document}
